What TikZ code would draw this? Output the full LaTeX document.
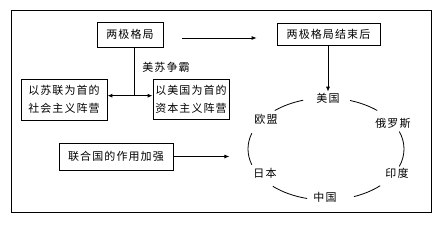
\documentclass[tikz,border=0pt]{standalone}
\usepackage{fontspec}
\setmainfont{Noto Sans CJK SC}[LetterSpace=10]
\usetikzlibrary{arrows.meta,calc}
\begin{document}
\begin{tikzpicture}[x=1pt,y=-1pt,
  box/.style={draw,line width=0.8pt,inner sep=0pt,font=\fontsize{11}{18}\selectfont,align=center},
  lbl/.style={font=\fontsize{11}{13}\selectfont,inner sep=1pt},
  arr/.style={line width=0.8pt,-{Latex[length=5pt,width=4pt]}},
  dbl/.style={line width=1.1pt,{Latex[length=5pt,width=4pt]}-{Latex[length=5pt,width=4pt]}},
  ln/.style={line width=0.8pt},
]
\useasboundingbox (0,0) rectangle (444,225);
\draw[ln] (11,10) rectangle (431,212);
% boxes
\node[box,minimum width=66pt,minimum height=25pt] (a) at (130,34.5) {两极格局};
\node[box,minimum width=103pt,minimum height=22pt] (b) at (328.5,34) {两极格局结束后};
\node[box,minimum width=86pt,minimum height=41pt] (c) at (64,99.5) {以苏联为首的\\社会主义阵营};
\node[box,minimum width=76pt,minimum height=40pt] (d) at (191,99) {以美国为首的\\资本主义阵营};
\node[box,minimum width=114pt,minimum height=27pt] (e) at (116,156.5) {联合国的作用加强};
\node[lbl] (m) at (166,67) {美苏争霸};
% circle labels
\node[lbl] (us) at (328,98) {美国};
\node[lbl] (eu) at (266,119) {欧盟};
\node[lbl] (ru) at (393,123) {俄罗斯};
\node[lbl] (jp) at (265,173) {日本};
\node[lbl] (in) at (397,173) {印度};
\node[lbl] (cn) at (325,197) {中国};
% connectors
\draw[arr] ($(a.east)+(19,3.5)$) -- ($(b.west)+(-20,4)$);
\draw[arr] (b.south -| us.north) -- (us.north);
\coordinate (mid) at ($(c.east)!0.6!(d.west)+(0,-3.5)$);
\draw[ln] (a.south -| mid) -- (mid);
\draw[dbl] (c.east |- mid) -- (d.west |- mid);
\draw[arr] (e.east) -- ($(e.east)+(56,0)$);
% ellipse arcs
\coordinate (O) at (326,149);
\foreach \s/\t in {-107/-131, 162/198, 104/133, 46/69, -20/20, -72/-49}{
  \draw[ln] (O) ++(\s:78 and 51) arc[start angle=\s, end angle=\t, x radius=78, y radius=51];
}
\end{tikzpicture}
\end{document}
